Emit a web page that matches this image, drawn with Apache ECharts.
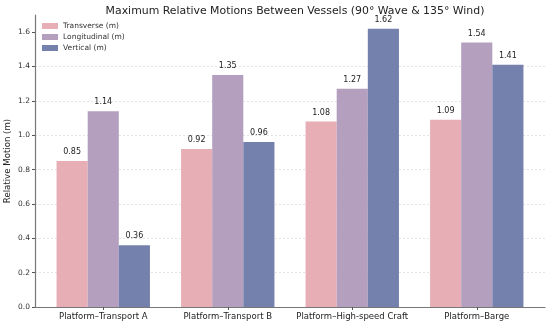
<!DOCTYPE html>
<html><head><meta charset="utf-8">
<script src="https://cdn.jsdelivr.net/npm/echarts@6/dist/echarts.min.js"></script>
<style>html,body{margin:0;padding:0;background:#fff}#c{width:550px;height:324px}</style>
</head><body><div id="c"></div>
<script>
const categories = ['Platform–Transport A', 'Platform–Transport B', 'Platform–High-speed Craft', 'Platform–Barge'];
const transverse = [0.85, 0.92, 1.08, 1.09];
const longitudinal = [1.14, 1.35, 1.27, 1.54];
const vertical = [0.36, 0.96, 1.62, 1.41];
const seriesNames = ['Transverse (m)', 'Longitudinal (m)', 'Vertical (m)'];
const yTicks = [0, 0.2, 0.4, 0.6, 0.8, 1.0, 1.2, 1.4, 1.6];
const colors = ['#e8aeb6', '#b49fbf', '#7581ad'];
const font = 'DejaVu Sans';

const chart = echarts.init(document.getElementById('c'), null, {renderer: 'canvas'});
const mk = (name, data, i) => ({
  name, type: 'bar', data, barWidth: '25%', barGap: '0%', xAxisIndex: 0, yAxisIndex: 0,
  itemStyle: {color: colors[i]},
  label: {show: true, position: 'top', distance: 5, fontFamily: font, fontSize: 8, color: '#222',
    formatter: p => p.value.toFixed(2)}
});
chart.setOption({
  animation: false,
  textStyle: {fontFamily: font},
  title: {text: 'Maximum Relative Motions Between Vessels (90° Wave & 135° Wind)', left: 290, textAlign: 'center', top: 1,
    textStyle: {fontFamily: font, fontSize: 10.9, fontWeight: 'normal', color: '#222'}},
  legend: {data: seriesNames, orient: 'vertical', left: 37, top: 17, itemWidth: 16, itemHeight: 6, itemGap: 3,
    textStyle: {fontFamily: font, fontSize: 7.5, color: '#333'}, icon: 'rect'},
  grid: [
    {left: 41, right: 11, top: 15, bottom: 17, outerBoundsMode: 'none', containLabel: false},
    {left: 35, right: 5, top: 15, bottom: 17, outerBoundsMode: 'none', containLabel: false}
  ],
  xAxis: [
    {type: 'category', data: categories, gridIndex: 0,
      axisLine: {show: false},
      axisTick: {show: true, alignWithLabel: true, length: 3, lineStyle: {color: '#555'}},
      axisLabel: {interval: 0, fontFamily: font, fontSize: 8.5, color: '#222', margin: 5}},
    {type: 'category', data: categories, gridIndex: 1,
      axisLine: {show: true, lineStyle: {color: '#777', width: 1.2}},
      axisTick: {show: false}, axisLabel: {show: false}}
  ],
  yAxis: [
    {type: 'value', min: 0, max: 1.7, gridIndex: 0, show: false},
    {type: 'value', min: 0, max: 1.7, interval: 0.2, gridIndex: 1,
      name: 'Relative Motion (m)', nameLocation: 'middle', nameGap: 23, nameMoveOverlap: false,
      nameTextStyle: {fontFamily: font, fontSize: 8.6, color: '#222'},
      axisLine: {show: true, lineStyle: {color: '#777', width: 1.2}},
      axisTick: {show: true, length: 3, lineStyle: {color: '#555'}, customValues: yTicks},
      axisLabel: {fontFamily: font, fontSize: 7.5, color: '#333', margin: 5, customValues: yTicks, formatter: v => v.toFixed(1)},
      splitLine: {show: true, showMaxLine: false, lineStyle: {type: [2, 2], color: '#ddd', width: 0.8}}}
  ],
  series: [mk(seriesNames[0], transverse, 0), mk(seriesNames[1], longitudinal, 1), mk(seriesNames[2], vertical, 2)]
});
</script></body></html>
